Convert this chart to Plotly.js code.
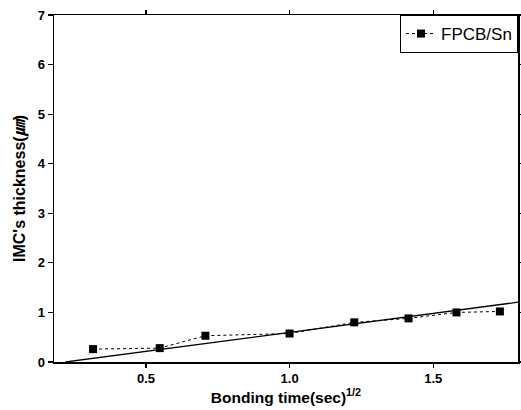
<!DOCTYPE html>
<html>
<head>
<meta charset="utf-8">
<script src="https://cdn.plot.ly/plotly-3.0.1.min.js"></script>
<style>html,body{margin:0;padding:0;background:#fff;}#chart{width:521px;height:410px;}</style>
</head>
<body>
<div id="chart"></div>
<script>
// Data
const bondingTime = [0.316, 0.548, 0.707, 1.0, 1.225, 1.414, 1.581, 1.732];
const imcThickness = [0.26, 0.28, 0.53, 0.575, 0.80, 0.88, 1.00, 1.02];
const fitX = [0.22, 1.80];
const fitY = [0.00, 1.21];
const seriesName = 'FPCB/Sn';
const xTickStart = 0.5, xTickStep = 0.5;
const yTickStart = 0, yTickStep = 1;

const font = 'Liberation Sans, Arial, sans-serif';

const traces = [
  {
    x: fitX, y: fitY, mode: 'lines', showlegend: false,
    line: {color: '#000', width: 1.3}, hoverinfo: 'skip'
  },
  {
    x: bondingTime, y: imcThickness, mode: 'lines+markers', name: seriesName,
    line: {color: '#000', width: 1, dash: 'dot'},
    marker: {symbol: 'square', size: 8, color: '#000'}
  }
];

const layout = {
  width: 521, height: 410,
  margin: {l: 54, r: 3, t: 15, b: 48},
  paper_bgcolor: '#fff', plot_bgcolor: '#fff',
  font: {family: font, color: '#000', size: 12},
  showlegend: true,
  legend: {
    x: 1, y: 1, xanchor: 'right', yanchor: 'top',
    bordercolor: '#000', borderwidth: 1, bgcolor: '#fff',
    font: {family: font, size: 17, color: '#000'},
    itemwidth: 30, tracegroupgap: 0
  },
  xaxis: {
    range: [0.18, 1.795], showgrid: false, zeroline: false,
    showline: true, mirror: 'allticks', linecolor: '#000', linewidth: 1.5,
    ticks: 'outside', ticklen: 4, tickwidth: 1.2, tickcolor: '#000',
    tickmode: 'linear', tick0: xTickStart, dtick: xTickStep, tickformat: '.1f',
    tickfont: {family: font, size: 13, color: '#000', weight: 'bold'},
    title: {text: 'Bonding time(sec)<sup>1/2</sup>', font: {family: font, size: 15.5, color: '#000', weight: 'bold'}, standoff: 4}
  },
  yaxis: {
    range: [0, 7], showgrid: false, zeroline: false,
    showline: true, mirror: 'allticks', linecolor: '#000', linewidth: 1.5,
    ticks: 'outside', ticklen: 5, tickwidth: 1.2, tickcolor: '#000',
    tickmode: 'linear', tick0: yTickStart, dtick: yTickStep,
    tickfont: {family: font, size: 13, color: '#000', weight: 'bold'},
    title: {text: "IMC's thickness(<i>㎛</i>)", font: {family: font + ', Noto Sans CJK KR', size: 16, color: '#000', weight: 'bold'}, standoff: 8}
  }
};

Plotly.newPlot('chart', traces, layout, {displayModeBar: false, staticPlot: true});
</script>
</body>
</html>
